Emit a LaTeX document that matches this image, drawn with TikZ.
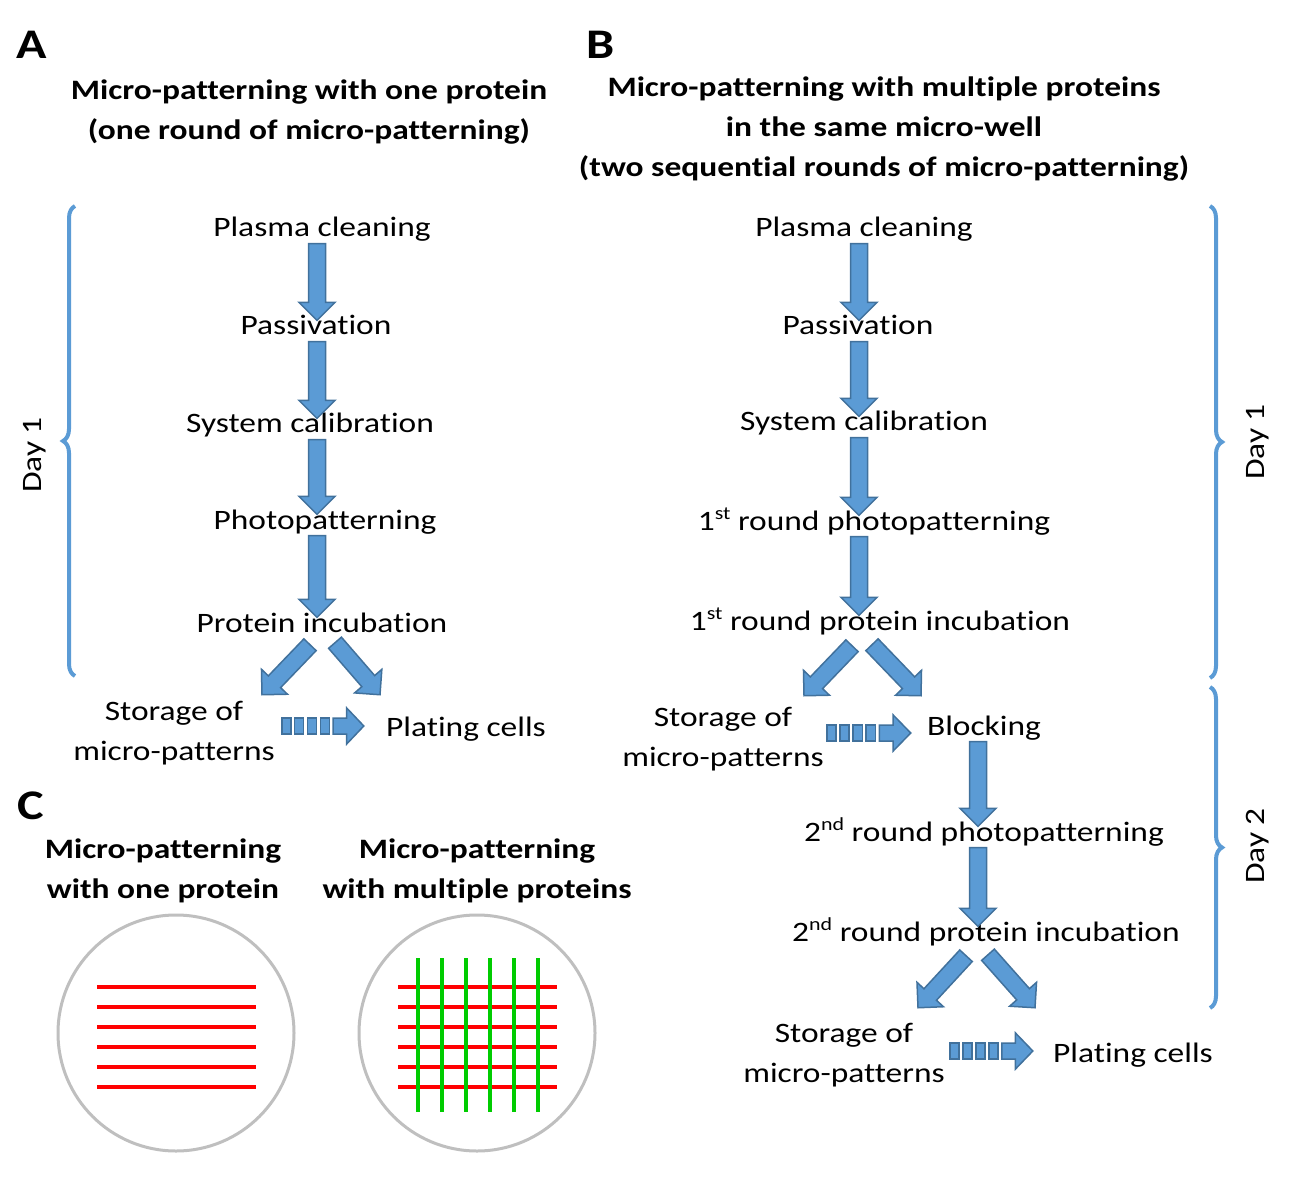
\documentclass[tikz,border=0pt]{standalone}
\usepackage{fontspec}
\setmainfont{Carlito}[FakeStretch=1.19, Ligatures=NoCommon]
\usetikzlibrary{calc,decorations.pathreplacing}

\definecolor{arrowblue}{RGB}{91,155,213}
\definecolor{arrowedge}{RGB}{65,113,156}
\definecolor{bracecol}{RGB}{91,155,213}
\definecolor{wellgray}{RGB}{191,191,191}
\definecolor{stripered}{RGB}{255,0,0}
\definecolor{stripegreen}{RGB}{0,204,0}

\newcommand{\sups}[1]{\raisebox{0.36em}{\fontsize{10.5}{12}\selectfont #1}}

\tikzset{
  stepnode/.style={inner sep=0.04cm, text height=0.7em, text depth=0.25em,
    font=\fontsize{16}{22.8}\selectfont},
  twoline/.style={inner sep=0.04cm, align=center, font=\fontsize{16}{22.8}\selectfont},
  headnode/.style={inner sep=0pt, align=center, font=\fontsize{16}{22.8}\selectfont\bfseries},
  panellabel/.style={inner sep=0pt, font=\fontsize{24}{28}\selectfont\bfseries},
  daynode/.style={inner sep=0pt, rotate=90, font=\fontsize{16}{19}\selectfont},
  fatarrow/.style={fill=arrowblue, draw=arrowedge, line width=0.03cm, line join=miter},
  daybrace/.style={decorate, decoration={brace, amplitude=0.24cm}, draw=bracecol,
    line width=0.08cm},
  well/.style={draw=wellgray, line width=0.06cm},
  redline/.style={draw=stripered, line width=0.08cm},
  greenline/.style={draw=stripegreen, line width=0.08cm}
}

% block arrow from #1 to #2
\newcommand{\fatarrow}[2]{%
  \path #1 coordinate (faS) #2 coordinate (faE);
  \coordinate (faC) at ($(faE)!0.36cm!(faS)$);
  \filldraw[fatarrow] ($(faS)!0.17cm!90:(faE)$) -- ($(faC)!0.17cm!90:(faE)$)
    -- ($(faC)!0.36cm!90:(faE)$) -- (faE) -- ($(faC)!0.36cm!-90:(faE)$)
    -- ($(faC)!0.17cm!-90:(faE)$) -- ($(faS)!0.17cm!-90:(faE)$) -- cycle;
}

% striped block arrow from #1 to #2 (horizontal)
\newcommand{\stripedarrow}[2]{%
  \path #1 coordinate (saS) #2 coordinate (saE);
  \foreach \f [evaluate=\f as \g using \f+0.109] in {0.009,0.164,0.319,0.474}
    \filldraw[fatarrow] ($(saS)!\f!(saE)+(0,-8)$) rectangle ($(saS)!\g!(saE)+(0,8)$);
  \filldraw[fatarrow] ($(saS)!0.63!(saE)+(0,-8)$) -- ($(saS)!0.793!(saE)+(0,-8)$)
    -- ($(saS)!0.793!(saE)+(0,-18)$) -- (saE) -- ($(saS)!0.793!(saE)+(0,18)$)
    -- ($(saS)!0.793!(saE)+(0,8)$) -- ($(saS)!0.63!(saE)+(0,8)$) -- cycle;
}

\begin{document}
\begin{tikzpicture}[x=0.02cm, y=-0.02cm]
  \useasboundingbox (0,0) rectangle (1294,1185);

  % Panel labels
  \node[panellabel] (labA) at (32,45) {A};
  \node[panellabel] (labB) at (601,45) {B};
  \node[panellabel] (labC) at (31,806) {C};

  % Headings
  \node[headnode] (headA) at (309,112) {Micro-patterning with one protein\\(one round of micro-patterning)};
  \node[headnode] (headB) at (884,129) {Micro-patterning with multiple proteins\\in the same micro-well\\(two sequential rounds of micro-patterning)};

  % Panel A steps
  \coordinate (axA) at (317,0);
  \node[stepnode, anchor=base] (pcA) at (322,237) {Plasma cleaning};
  \node[stepnode, anchor=base] (paA) at (316,335) {Passivation};
  \node[stepnode, anchor=base] (scA) at (310,433) {System calibration};
  \node[stepnode, anchor=base] (ppA) at (325,529) {Photopatterning};
  \node[stepnode, anchor=base] (piA) at (322,632) {Protein incubation};
  \node[twoline] (stA) at (174,733) {Storage of\\micro-patterns};
  \node[stepnode, anchor=base] (plA) at (466,736) {Plating cells};

  % Panel A arrows
  \fatarrow{(pcA.south -| axA)}{(paA.north -| axA)}
  \fatarrow{(paA.south -| axA)}{(scA.north -| axA)}
  \fatarrow{(scA.south -| axA)}{(ppA.north -| axA)}
  \fatarrow{(ppA.south -| axA)}{(piA.north -| axA)}
  \fatarrow{($(piA.south)+(-12,6)$)}{($(piA.south)+(-60,56)$)}
  \fatarrow{($(piA.south)+(13,4)$)}{($(piA.south)+(58,56)$)}
  \coordinate (saA) at ($(stA.east)+(4,-7)$);
  \stripedarrow{(saA)}{($(saA -| plA.west)+(-20,0)$)}

  % Panel B steps
  \coordinate (axB) at (859,0);
  \coordinate (axB2) at (978,0);
  \node[stepnode, anchor=base] (pcB) at (864,237) {Plasma cleaning};
  \node[stepnode, anchor=base] (paB) at (858,335) {Passivation};
  \node[stepnode, anchor=base] (scB) at (864,431) {System calibration};
  \node[stepnode, anchor=base] (ppB) at (874,530) {1\sups{st} round photopatterning};
  \node[stepnode, anchor=base] (piB) at (880,630) {1\sups{st} round protein incubation};
  \node[twoline] (stB) at (723,739) {Storage of\\micro-patterns};
  \node[stepnode, anchor=base] (blB) at (984,735) {Blocking};
  \node[stepnode, anchor=base] (pp2B) at (984,841) {2\sups{nd} round photopatterning};
  \node[stepnode, anchor=base] (pi2B) at (986,941) {2\sups{nd} round protein incubation};
  \node[twoline] (st2B) at (844,1055) {Storage of\\micro-patterns};
  \node[stepnode, anchor=base] (plB) at (1133,1062) {Plating cells};

  % Panel B arrows
  \fatarrow{(pcB.south -| axB)}{(paB.north -| axB)}
  \fatarrow{(paB.south -| axB)}{(scB.north -| axB)}
  \fatarrow{(scB.south -| axB)}{(ppB.north -| axB)}
  \fatarrow{(ppB.south -| axB)}{(piB.north -| axB)}
  \fatarrow{($(piB.south)+(-28,9)$)}{($(piB.south)+(-76,59)$)}
  \fatarrow{($(piB.south)+(-8,8)$)}{($(piB.south)+(41,59)$)}
  \coordinate (saB) at ($(stB.east)+(0,-6)$);
  \stripedarrow{(saB)}{($(saB -| blB.west)+(-14,0)$)}
  \fatarrow{(blB.south -| axB2)}{(pp2B.north -| axB2)}
  \fatarrow{(pp2B.south -| axB2)}{(pi2B.north -| axB2)}
  \fatarrow{($(pi2B.south)+(-20,8)$)}{($(pi2B.south)+(-68,60)$)}
  \fatarrow{($(pi2B.south)+(2,7)$)}{($(pi2B.south)+(49,60)$)}
  \coordinate (sa2B) at ($(st2B.east)+(2,-4)$);
  \stripedarrow{(sa2B)}{($(sa2B -| plB.west)+(-18,0)$)}

  % Days
  \draw[daybrace] (75,676) -- (75,206);
  \node[daynode] (dayA) at (35,455) {Day 1};
  \draw[daybrace] (1210,206) -- (1210,678);
  \node[daynode] (day1B) at (1258,442) {Day 1};
  \draw[daybrace] (1210,687) -- (1210,1008);
  \node[daynode] (day2B) at (1258,846) {Day 2};

  % Panel C headings
  \node[headnode] (headC1) at (163,871) {Micro-patterning\\with one protein};
  \node[headnode] (headC2) at (477,871) {Micro-patterning\\with multiple proteins};

  % Wells
  \draw[well] (176,1033) circle (118);
  \draw[well] (477,1033) circle (118);
  \foreach \y in {987,1007,1027,1047,1067,1087} {
    \draw[redline] (97,\y) -- (256,\y);
    \draw[redline] (398,\y) -- (557,\y);
  }
  \foreach \x in {418,442,466,490,514,538}
    \draw[greenline] (\x,958) -- (\x,1112);
\end{tikzpicture}
\end{document}
